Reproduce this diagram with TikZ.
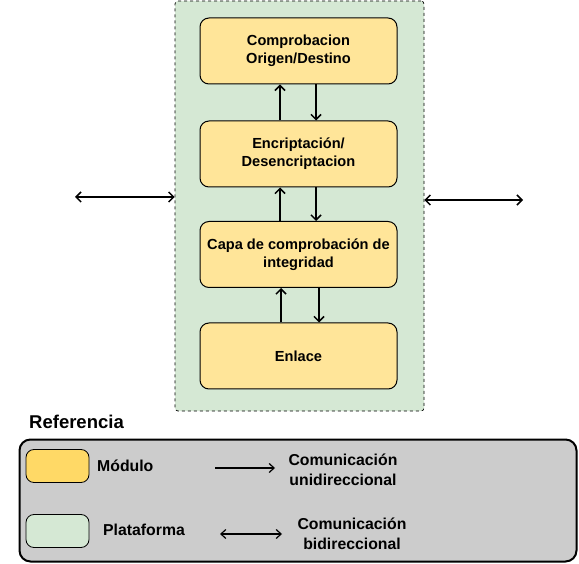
\documentclass[tikz,border=0pt]{standalone}
\usepackage{fontspec}
\setmainfont{Liberation Sans}
\usetikzlibrary{arrows.meta}
\definecolor{plat}{HTML}{D5E8D4}
\definecolor{mod}{HTML}{FFE599}
\definecolor{modleg}{HTML}{FFD966}
\definecolor{leggray}{HTML}{CCCCCC}
\begin{document}
\begin{tikzpicture}[x=1pt,y=-1pt,
  modbox/.style={draw=black,fill=mod,rounded corners=9pt,line width=1pt,minimum width=197pt,minimum height=66pt,align=center,font=\fontsize{14.6}{18}\selectfont\bfseries,inner sep=0pt},
  arr/.style={-{Straight Barb[length=5pt,width=10pt]},line width=1.5pt},
  barr/.style={{Straight Barb[length=5pt,width=10pt]}-{Straight Barb[length=5pt,width=10pt]},line width=1.5pt},
  legtext/.style={font=\fontsize{15.8}{19.5}\selectfont\bfseries,align=center,inner sep=0pt},
  swatch/.style={draw=black,rounded corners=8pt,line width=0.8pt,minimum width=63pt,minimum height=33pt,inner sep=0pt}]
\useasboundingbox (0,0) rectangle (579,564);
% platform
\node[draw=black,dashed,fill=plat,rounded corners=3pt,line width=0.7pt,minimum width=249pt,minimum height=410pt,inner sep=0pt] (plat) at (299.5,206) {};
% modules
\node[modbox] (m1) at (298.5,51) {Comprobacion\\Origen/Destino};
\node[modbox] (m2) at (298.5,154) {Encriptación/\\Desencriptacion};
\node[modbox] (m3) at (298.5,254.5) {Capa de comprobación de\\integridad};
\node[modbox] (m4) at (298.5,356) {Enlace};
% vertical arrows
\draw[arr] (m2.north -| 280,0) -- (m1.south -| 280,0);
\draw[arr] (m1.south -| 316,0) -- (m2.north -| 316,0);
\draw[arr] (m3.north -| 280,0) -- (m2.south -| 280,0);
\draw[arr] (m2.south -| 316,0) -- (m3.north -| 316,0);
\draw[arr] (m4.north -| 281,0) -- (m3.south -| 281,0);
\draw[arr] (m3.south -| 319,0) -- (m4.north -| 319,0);
% side arrows
\coordinate (lend) at (75,197);
\coordinate (rend) at (523,200);
\draw[barr] (lend) -- (plat.west |- lend);
\draw[barr] (plat.east |- rend) -- (rend);
% legend
\node[anchor=west,font=\fontsize{18.5}{22}\selectfont\bfseries,inner sep=0pt] (reftitle) at (29,422) {Referencia};
\node[draw=black,fill=leggray,rounded corners=11pt,line width=2pt,minimum width=557pt,minimum height=122pt,inner sep=0pt] (legbox) at (298,500.5) {};
\node[swatch,fill=modleg] (swmod) at (57.5,466) {};
\node[swatch,fill=plat] (swplat) at (57.5,531) {};
\node[legtext,anchor=west] (tmod) at (97,466) {Módulo};
\node[legtext,anchor=west] (tplat) at (103,529.5) {Plataforma};
\coordinate (ua) at (215,468);
\coordinate (ub) at (275,468);
\draw[-{Straight Barb[length=5pt,width=9pt]},line width=1.2pt] (ua) -- (ub);
\coordinate (ba) at (220,534);
\coordinate (bb) at (282,534);
\draw[{Straight Barb[length=5pt,width=9pt]}-{Straight Barb[length=5pt,width=9pt]},line width=1.2pt] (ba) -- (bb);
\node[legtext] (tuni) at (343,470) {Comunicación\\unidireccional};
\node[legtext] (tbi) at (352,534) {Comunicación\\bidireccional};
\end{tikzpicture}
\end{document}
